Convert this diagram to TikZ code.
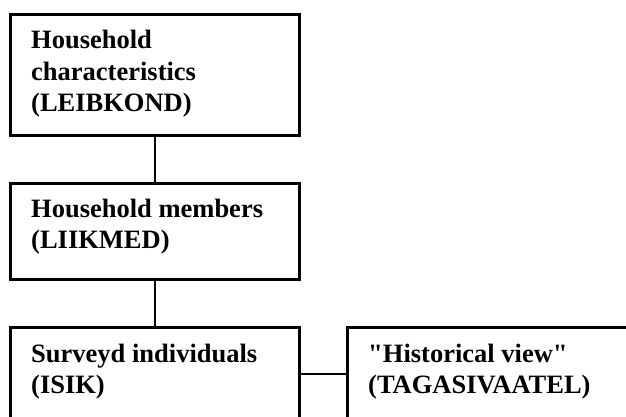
\documentclass[tikz,border=0pt]{standalone}
\usepackage{fontspec}
\setmainfont{Liberation Serif}[Ligatures=TeXOff]
\usetikzlibrary{calc}
\begin{document}
\begin{tikzpicture}[x=1pt,y=-1pt,
  boxnode/.style={draw=black, line width=2.6pt, inner sep=0pt, anchor=north west},
  label/.style={anchor=base west, inner sep=0pt, align=left,
    font=\fontsize{26.5}{31.5}\selectfont\bfseries},
  conn/.style={draw=black, line width=1.6pt}]
\useasboundingbox (0,0) rectangle (626,417);
\clip (0,0) rectangle (626,417);
\node[boxnode, minimum width=289pt, minimum height=121pt] (b1) at (9,13) {};
\node[boxnode, minimum width=289pt, minimum height=96pt] (b2) at (9,182) {};
\node[boxnode, minimum width=289pt, minimum height=120pt] (b3) at (9,326) {};
\node[boxnode, minimum width=300pt, minimum height=120pt] (b4) at (346,326) {};
\node[label] (t1) at (31,112) {Household\\characteristics\\(LEIBKOND)};
\node[label] (t2) at (31,248.5) {Household members\\(LIIKMED)};
\node[label] (t3) at (31,393.5) {Surveyd individuals\\(ISIK)};
\node[label] (t4) at (368,393.5) {"Historical view"\\(TAGASIVAATEL)};
\coordinate (h) at ($(b3.north east)+(0,48)$);
\draw[conn] (b1.south) -- (b2.north);
\draw[conn] (b2.south) -- (b3.north);
\draw[conn] (h) -- (b4.west |- h);
\end{tikzpicture}
\end{document}
